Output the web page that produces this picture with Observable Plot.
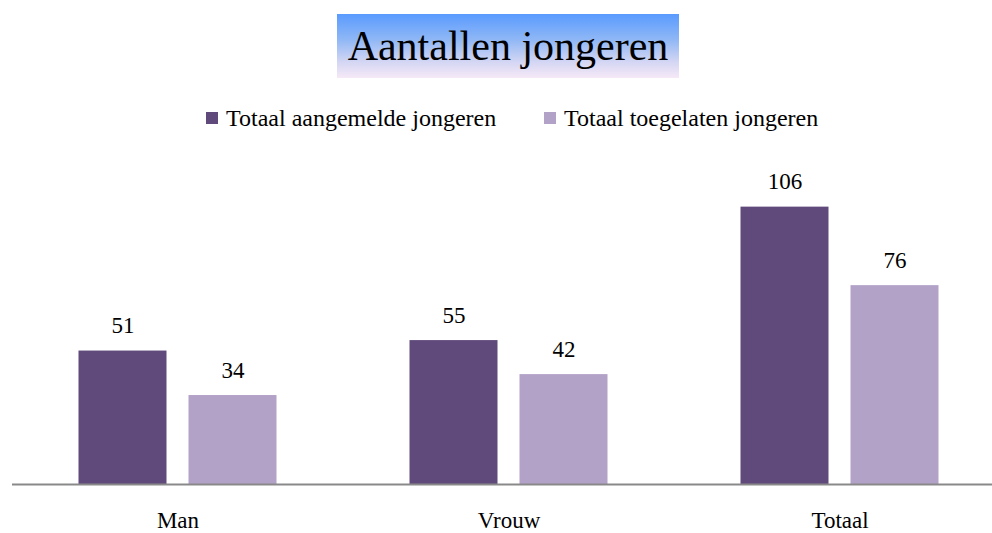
<!DOCTYPE html>
<html>
<head>
<meta charset="utf-8">
<script src="https://cdn.jsdelivr.net/npm/d3@7"></script>
<script src="https://cdn.jsdelivr.net/npm/@observablehq/plot@0.6"></script>
<style>
  html, body { margin: 0; padding: 0; background: #fff; }
  body { width: 992px; height: 533px; position: relative; overflow: hidden; font-family: "Liberation Serif", serif; }
  #title { position: absolute; left: 337px; top: 14px; width: 342px; height: 64px;
    background: linear-gradient(to bottom, #5a9bff 0%, #8fb7f5 40%, #d4d6f3 75%, #f6e9f7 100%);
    display: flex; align-items: center; justify-content: center;
    font-size: 42px; color: #000; }
  #legend { position: absolute; left: 0; top: 104px; width: 992px; height: 28px; font-size: 24px; color: #000; }
  .item { position: absolute; top: 0; display: flex; align-items: center; height: 28px; white-space: nowrap; }
  .sw { width: 12px; height: 12px; margin-right: 8px; display: inline-block; }
  #chart { position: absolute; left: 0; top: 150px; }
</style>
</head>
<body>
<div id="title">Aantallen jongeren</div>
<div id="legend"></div>
<div id="chart"></div>
<script>
const categories = ["Man", "Vrouw", "Totaal"];
const series = ["Totaal aangemelde jongeren", "Totaal toegelaten jongeren"];
const aangemeld = [51, 55, 106];
const toegelaten = [34, 42, 76];
const colors = ["#604a7b", "#b3a2c7"];

const data = [];
categories.forEach((c, i) => {
  data.push({cat: c, series: series[0], value: aangemeld[i]});
  data.push({cat: c, series: series[1], value: toegelaten[i]});
});

// legend
const legend = document.getElementById("legend");
const legendX = [206, 544];
series.forEach((s, i) => {
  const d = document.createElement("div");
  d.className = "item";
  d.style.left = legendX[i] + "px";
  d.innerHTML = `<span class="sw" style="background:${colors[i]}"></span>${s}`;
  legend.appendChild(d);
});

const chart = Plot.plot({
  width: 992,
  height: 380,
  marginTop: 20,
  marginBottom: 46,
  marginLeft: 11.5,
  marginRight: 0,
  style: {fontFamily: "Liberation Serif, serif", fontSize: "23px", color: "#000", background: "transparent", overflow: "visible"},
  fx: {domain: categories, range: [11.5, 1004.5], paddingInner: 0, paddingOuter: 0, axis: "bottom", tickSize: 0, tickPadding: 27, label: null},
  x: {domain: series, paddingInner: 0.2, paddingOuter: 0.6, axis: null},
  y: {domain: [0, 120], axis: null},
  color: {domain: series, range: colors},
  facet: {data: data, x: "cat"},
  marks: [
    Plot.barY(data, {x: "series", y: "value", fill: "series"}),
    Plot.text(data, {x: "series", y: "value", text: d => String(d.value), dy: -18, lineAnchor: "bottom", fill: "#000", fontSize: 23}),
    Plot.ruleY([0], {stroke: "#898989", strokeWidth: 2})
  ]
});
document.getElementById("chart").appendChild(chart);
</script>
</body>
</html>
